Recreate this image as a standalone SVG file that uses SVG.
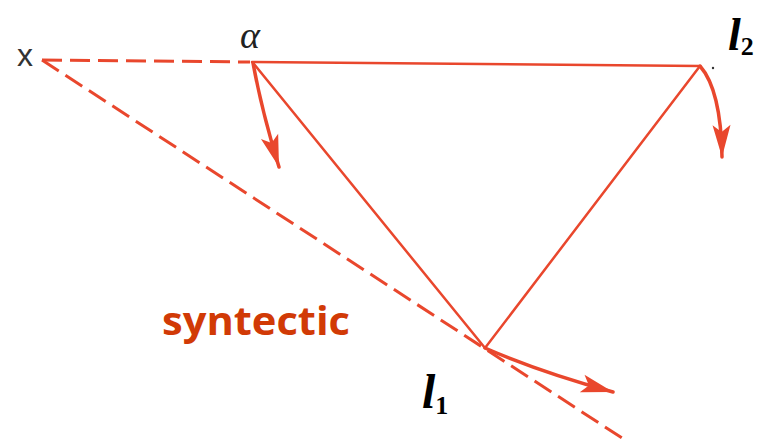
<svg xmlns="http://www.w3.org/2000/svg" width="760" height="445" viewBox="0 0 760 445">
<defs>
<style>
.ln{fill:none;stroke:#e9472d;stroke-width:2.5;stroke-linecap:round}
.arr{fill:none;stroke:#e9472d;stroke-width:3.5;stroke-linecap:round}
.dash{fill:none;stroke:#e9472d;stroke-width:3;stroke-dasharray:20 8}
.lbl{font-family:"Liberation Serif",serif;font-weight:bold;font-style:italic;fill:#000}
.sub{font-family:"Liberation Serif",serif;font-weight:bold;font-style:normal;fill:#000}
</style>
<marker id="ah" markerUnits="userSpaceOnUse" markerWidth="36" markerHeight="20" refX="32" refY="9" orient="auto" overflow="visible">
<path d="M0,0 L32,9 L0,18 L7,9 z" fill="#e9472d"/>
</marker>
</defs>
<rect width="760" height="445" fill="#ffffff"/>
<g id="connectors">
<line class="dash" x1="42" y1="60" x2="250" y2="62"/>
<line class="dash" x1="42" y1="60" x2="625" y2="440"/>
<line class="ln" x1="252" y1="62" x2="700" y2="66"/>
<line class="ln" x1="254" y1="64" x2="485" y2="348"/>
<line class="ln" x1="700" y1="66" x2="485" y2="348"/>
<path class="arr" d="M253,63 Q262,112 279,167" marker-end="url(#ah)"/>
<path class="arr" d="M700,66 Q721,90 722,157" marker-end="url(#ah)"/>
<path class="arr" d="M485,348 Q540,372 613,392" marker-end="url(#ah)"/>
<circle cx="713" cy="68" r="1.2" fill="#333"/>
</g>
<g id="node-x">
<text x="17" y="66" font-family="Liberation Sans, sans-serif" font-size="32" fill="#333">x</text>
</g>
<g id="node-alpha">
<text x="240" y="48" font-family="Liberation Serif, serif" font-style="italic" font-size="38" fill="#222">α</text>
</g>
<g id="node-l2">
<text x="728" y="50" class="lbl" font-size="46">l<tspan class="sub" font-size="26" dy="5">2</tspan></text>
</g>
<g id="node-l1">
<text x="422" y="408" class="lbl" font-size="48">l<tspan class="sub" font-size="26" dy="6">1</tspan></text>
</g>
<g id="label-syntectic">
<text x="162" y="335" font-family="Open Sans, sans-serif" font-weight="bold" font-size="40" fill="#d13a06" textLength="188" lengthAdjust="spacingAndGlyphs">syntectic</text>
</g>
</svg>
